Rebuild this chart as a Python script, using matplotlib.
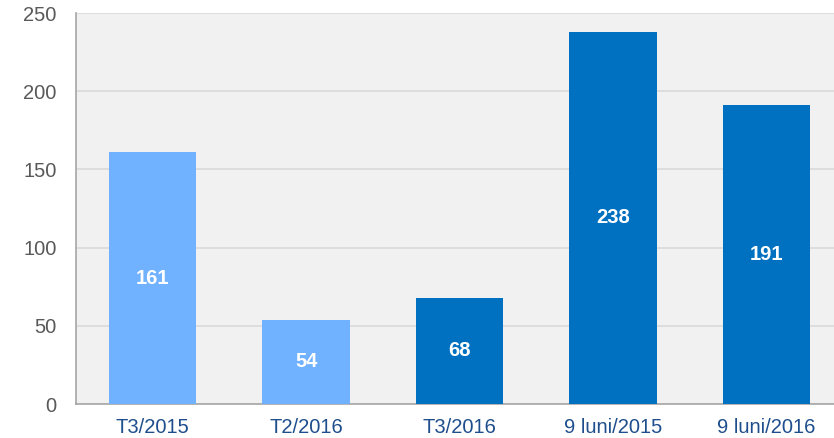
import matplotlib
matplotlib.use('Agg')
import matplotlib.pyplot as plt

# data
categories = ['T3/2015', 'T2/2016', 'T3/2016', '9 luni/2015', '9 luni/2016']
values = [161, 54, 68, 238, 191]
colors = ['#70b2ff', '#70b2ff', '#0070c0', '#0070c0', '#0070c0']

plt.rcParams['font.family'] = ['Liberation Sans', 'DejaVu Sans']

fig = plt.figure(figsize=(8.34, 4.38), dpi=100)
ax = fig.add_axes([0.0911, 0.0776, 0.92, 0.8927])
ax.set_facecolor('#f1f1f1')

x = range(len(categories))
bars = ax.bar(x, values, width=0.57, color=colors, zorder=3)
for b, v in zip(bars, values):
    ax.text(b.get_x() + b.get_width() / 2, v / 2, str(v), ha='center', va='center',
            color='white', fontsize=14.5, fontweight='bold', zorder=4)

ax.set_xlim(-0.5, len(categories) - 0.5)
ax.set_ylim(0, 250)
ax.set_yticks(range(0, 251, 50))
ax.set_xticks(list(x))
ax.set_xticklabels(categories)
ax.yaxis.grid(True, color='#d9d9d9', linewidth=1.2, zorder=0)
ax.tick_params(axis='y', length=0, labelsize=14.5, labelcolor='#595959', pad=14)
ax.tick_params(axis='x', length=0, labelsize=14.5, labelcolor='#1f4e8c', pad=10)
for s in ['top', 'right']:
    ax.spines[s].set_visible(False)
ax.spines['left'].set_color('#a6a6a6')
ax.spines['bottom'].set_color('#a6a6a6')
ax.spines['left'].set_linewidth(1.2)
ax.spines['bottom'].set_linewidth(1.2)

fig.savefig('out.png', dpi=100)
